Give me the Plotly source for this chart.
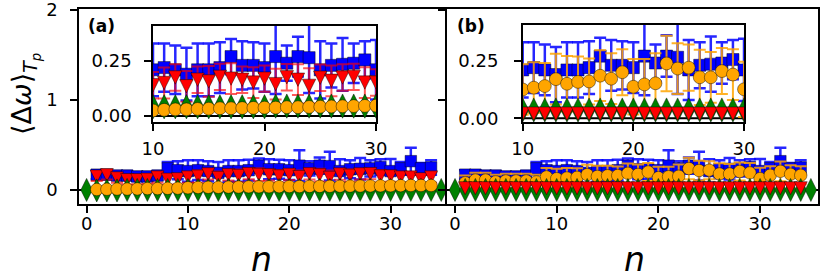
import plotly.graph_objects as go

# ---------------- data ----------------
n_main = list(range(1, 35))          # n = 1..34
n_green = list(range(0, 36))         # n = 0..35

blue = [0.17, 0.17, 0.16, 0.16, 0.15, 0.15, 0.16, 0.24, 0.22, 0.21,
        0.22, 0.21, 0.19, 0.21, 0.21, 0.22, 0.27, 0.23, 0.23, 0.22,
        0.27, 0.24, 0.27, 0.265, 0.21, 0.23, 0.235, 0.24, 0.255, 0.21,
        0.24, 0.32, 0.24, 0.25]
blue_err = [0.05, 0.05, 0.05, 0.05, 0.05, 0.05, 0.05, 0.07, 0.10, 0.12,
            0.11, 0.11, 0.12, 0.12, 0.12, 0.115, 0.08, 0.11, 0.105, 0.11,
            0.17, 0.08, 0.09, 0.16, 0.13, 0.10, 0.12, 0.09, 0.085, 0.135,
            0.07, 0.15, 0.06, 0.08]

red_a = [0.15, 0.165, 0.13, 0.11, 0.11, 0.115, 0.14, 0.115, 0.12, 0.14,
         0.15, 0.175, 0.135, 0.165, 0.157, 0.178, 0.17, 0.165, 0.152, 0.17,
         0.145, 0.176, 0.165, 0.137, 0.174, 0.16, 0.175, 0.178, 0.152, 0.152,
         0.14, 0.14, 0.12, 0.14]
red_a_err = [0.05, 0.05, 0.05, 0.05, 0.05, 0.05, 0.06, 0.06, 0.06, 0.06,
             0.07, 0.06, 0.07, 0.06, 0.07, 0.06, 0.07, 0.06, 0.07, 0.06,
             0.07, 0.06, 0.07, 0.08, 0.06, 0.07, 0.06, 0.06, 0.07, 0.06,
             0.06, 0.06, 0.05, 0.06]

orange_a = [0.005, 0.008, 0.01, 0.01, 0.012, 0.015, 0.015, 0.018, 0.02, 0.025,
            0.028, 0.03, 0.03, 0.032, 0.033, 0.035, 0.035, 0.036, 0.037, 0.038,
            0.038, 0.04, 0.04, 0.041, 0.042, 0.043, 0.044, 0.045, 0.046, 0.047,
            0.048, 0.05, 0.05, 0.05]

green_a = [0.0, -0.005, -0.005, -0.005, 0.0, 0.0, 0.0, 0.0, 0.0, 0.0,
           0.0, 0.0, 0.0, 0.0, 0.0, 0.0, 0.0, 0.0, 0.0, 0.0,
           0.0, 0.0, 0.0, 0.0, 0.0, 0.0, 0.0, 0.0, 0.0, 0.0,
           0.0, 0.0, 0.0, 0.0, 0.0, 0.0]

orange_b = [0.08, 0.11, 0.11, 0.09, 0.10, 0.10, 0.10, 0.09, 0.145, 0.125,
            0.133, 0.14, 0.17, 0.15, 0.158, 0.16, 0.185, 0.172, 0.20, 0.137,
            0.147, 0.152, 0.238, 0.216, 0.22, 0.178, 0.178, 0.205, 0.19, 0.126,
            0.163, 0.207, 0.174, 0.163]
orange_b_err = [0.08, 0.08, 0.08, 0.08, 0.08, 0.08, 0.08, 0.08, 0.10, 0.11,
                0.11, 0.10, 0.11, 0.12, 0.11, 0.10, 0.11, 0.11, 0.10, 0.12,
                0.11, 0.13, 0.12, 0.11, 0.10, 0.12, 0.11, 0.10, 0.11, 0.12,
                0.10, 0.11, 0.10, 0.10]

red_b = [0.02, 0.02, 0.02, 0.02, 0.02, 0.02, 0.02, 0.02, 0.02, 0.02,
         0.02, 0.02, 0.02, 0.02, 0.02, 0.02, 0.02, 0.02, 0.02, 0.02,
         0.02, 0.02, 0.02, 0.02, 0.02, 0.02, 0.02, 0.02, 0.02, 0.02,
         0.02, 0.02, 0.02, 0.02]

green_b = [0.0, 0.0, 0.0, 0.0, 0.0, 0.0, 0.0, 0.0, 0.0, 0.0,
           0.0, 0.0, 0.0, 0.0, 0.0, 0.0, 0.0, 0.0, 0.0, 0.0,
           0.0, 0.0, 0.0, 0.0, 0.0, 0.0, 0.0, 0.0, 0.0, 0.0,
           0.0, 0.0, 0.0, 0.0, 0.0, 0.0]

inset_green_a = [0.042, 0.042, 0.042, 0.042, 0.042, 0.042, 0.042, 0.042, 0.042, 0.042,
                 0.042, 0.042, 0.042, 0.042, 0.042, 0.042, 0.042, 0.042, 0.042, 0.042,
                 0.042, 0.045, 0.045, 0.045, 0.045, 0.045, 0.045, 0.045, 0.045, 0.045,
                 0.045, 0.045, 0.045, 0.045, 0.045, 0.045]
inset_green_b = [0.036, 0.036, 0.036, 0.036, 0.036, 0.036, 0.036, 0.036, 0.036, 0.036,
                 0.036, 0.036, 0.036, 0.036, 0.036, 0.036, 0.036, 0.036, 0.036, 0.036,
                 0.036, 0.036, 0.036, 0.036, 0.036, 0.036, 0.036, 0.036, 0.036, 0.036,
                 0.036, 0.036, 0.036, 0.036, 0.036, 0.036]

main_yticks = [0, 1, 2]
main_xticks = [0, 10, 20, 30]
inset_yticks = [0.0, 0.25]
inset_ytext = ["0.00", "0.25"]
inset_xticks = [10, 20, 30]

# ---------------- styles ----------------
BLUE, RED, ORANGE, GREEN = "#0000ff", "#ff0000", "#ffa500", "#008000"
EDGE = dict(color="rgba(0,0,0,0.55)", width=0.8)
W, H = 830, 279


def px_x(p):
    return p / W


def px_y(p):
    return (H - p) / H


fig = go.Figure()


def blue_tr(xa, ya, s):
    return go.Scatter(x=n_main, y=blue, mode="markers", xaxis=xa, yaxis=ya,
                      marker=dict(symbol="square", size=11.5 * s, color=BLUE, line=EDGE),
                      error_y=dict(type="data", array=blue_err, color="rgba(0,0,255,0.85)",
                                   thickness=2.5, width=6), showlegend=False)


def red_tr(xa, ya, s, yv, err):
    sz = 13 * s
    ey = None
    if err is not None:
        ey = dict(type="data", array=err, color="rgba(255,0,0,0.65)", thickness=2, width=6)
    return go.Scatter(x=n_main, y=yv, mode="markers", xaxis=xa, yaxis=ya,
                      marker=dict(symbol="arrow-down", size=sz, standoff=sz / 2,
                                  color=RED, line=EDGE),
                      error_y=ey, showlegend=False)


def orange_tr(xa, ya, s, yv, err):
    ey = None
    if err is not None:
        ey = dict(type="data", array=err, color="rgba(255,165,0,0.85)", thickness=2, width=6)
    return go.Scatter(x=n_main, y=yv, mode="markers", xaxis=xa, yaxis=ya,
                      marker=dict(symbol="circle", size=12.5 * s, color=ORANGE, line=EDGE),
                      error_y=ey, showlegend=False)


def green_tr(xa, ya, s, yv):
    return go.Scatter(x=n_green, y=yv, mode="markers", xaxis=xa, yaxis=ya,
                      marker=dict(symbol="diamond-tall", size=16.5 * s, color=GREEN, line=EDGE),
                      showlegend=False)


# panel (a) main: blue, red, green, orange
fig.add_trace(blue_tr("x", "y", 1.0))
fig.add_trace(red_tr("x", "y", 1.0, red_a, red_a_err))
fig.add_trace(green_tr("x", "y", 1.0, green_a))
fig.add_trace(orange_tr("x", "y", 1.0, orange_a, None))
# panel (b) main: blue, orange, green, red
fig.add_trace(blue_tr("x2", "y2", 1.0))
fig.add_trace(orange_tr("x2", "y2", 1.0, orange_b, orange_b_err))
fig.add_trace(green_tr("x2", "y2", 1.0, green_b))
fig.add_trace(red_tr("x2", "y2", 1.0, red_b, None))
# inset (a)
fig.add_trace(blue_tr("x3", "y3", 1.05))
fig.add_trace(red_tr("x3", "y3", 1.03, red_a, red_a_err))
fig.add_trace(green_tr("x3", "y3", 1.05, inset_green_a))
fig.add_trace(orange_tr("x3", "y3", 1.03, orange_a, None))
# inset (b)
fig.add_trace(blue_tr("x4", "y4", 1.05))
fig.add_trace(orange_tr("x4", "y4", 1.03, orange_b, orange_b_err))
fig.add_trace(green_tr("x4", "y4", 1.05, inset_green_b))
fig.add_trace(red_tr("x4", "y4", 1.03, red_b, None))

FONT = "DejaVu Sans"
axis_common = dict(showline=True, linecolor="black", linewidth=1.5,
                   ticks="outside", ticklen=7, tickwidth=1.5, tickcolor="black",
                   showgrid=False, zeroline=False, automargin=False,
                   ticklabeloverflow="allow",
                   tickfont=dict(family=FONT, size=18, color="black"))

xr_a = [-0.75, 35.57]
xr_b = [-0.79, 35.7]
yr = [-0.156, 2.011]
yr3 = [-0.0273, 0.409]
yr4 = [-0.016, 0.405]

fig.update_layout(
    template="none",
    width=W, height=H,
    margin=dict(l=0, r=0, t=0, b=0, pad=0, autoexpand=False),
    paper_bgcolor="white", plot_bgcolor="white",
    showlegend=False,
    xaxis=dict(domain=[px_x(79), px_x(447)], anchor="y", range=xr_a, mirror=True,
               tickvals=main_xticks, ticklabelstandoff=-4, **axis_common),
    yaxis=dict(domain=[px_y(204), px_y(9)], anchor="x", range=yr, mirror=False,
               tickvals=main_yticks, ticklabelstandoff=9, **axis_common),
    xaxis2=dict(domain=[px_x(447), px_x(818)], anchor="y2", range=xr_b, mirror=True,
                tickvals=main_xticks, ticklabelstandoff=-4, **axis_common),
    yaxis2=dict(domain=[px_y(204), px_y(9)], anchor="x2", range=yr, mirror=True,
                tickvals=main_yticks, showticklabels=False, **axis_common),
    xaxis3=dict(domain=[px_x(153), px_x(376)], anchor="y3", range=[10, 30], mirror=True,
                tickvals=inset_xticks, ticklabelstandoff=3, **axis_common),
    yaxis3=dict(domain=[px_y(122), px_y(26)], anchor="x3", range=yr3, mirror=True,
                tickvals=inset_yticks, ticktext=inset_ytext, ticklabelstandoff=9, **axis_common),
    xaxis4=dict(domain=[px_x(522.7), px_x(744)], anchor="y4", range=[10, 30], mirror=True,
                tickvals=inset_xticks, ticklabelstandoff=3, **axis_common),
    yaxis4=dict(domain=[px_y(122), px_y(25)], anchor="x4", range=yr4, mirror=True,
                tickvals=inset_yticks, ticktext=inset_ytext, ticklabelstandoff=12, **axis_common),
)

# zero lines
for xr, xa, ya in [(xr_a, "x", "y"), (xr_b, "x2", "y2"), ([10, 30], "x3", "y3"), ([10, 30], "x4", "y4")]:
    fig.add_shape(type="line", xref=xa, yref=ya, x0=xr[0], x1=xr[1], y0=0, y1=0,
                  line=dict(color="black", width=2), layer="below")

# texts
fig.add_annotation(text="⟨Δ<i>ω</i>⟩<sub><i>T<sub>p</sub></i></sub>", textangle=-90,
                   xref="paper", yref="paper", x=px_x(25), y=px_y(94),
                   xanchor="center", yanchor="middle",
                   showarrow=False, font=dict(family=FONT, size=27, color="black"))
fig.add_annotation(text="<i>n</i>", xref="paper", yref="paper", x=px_x(261), y=px_y(259),
                   xanchor="center", yanchor="middle",
                   showarrow=False, font=dict(family=FONT, size=33, color="black"))
fig.add_annotation(text="<i>n</i>", xref="paper", yref="paper", x=px_x(634), y=px_y(259),
                   xanchor="center", yanchor="middle",
                   showarrow=False, font=dict(family=FONT, size=33, color="black"))
fig.add_annotation(text="<b>(a)</b>", xref="paper", yref="paper", x=px_x(86), y=px_y(26),
                   xanchor="left", yanchor="middle",
                   showarrow=False, font=dict(family=FONT, size=17, color="black"))
fig.add_annotation(text="<b>(b)</b>", xref="paper", yref="paper", x=px_x(455), y=px_y(26),
                   xanchor="left", yanchor="middle",
                   showarrow=False, font=dict(family=FONT, size=17, color="black"))

fig.write_html("out.html", config={"displayModeBar": False},
               post_script="document.body.style.margin='0px';")
